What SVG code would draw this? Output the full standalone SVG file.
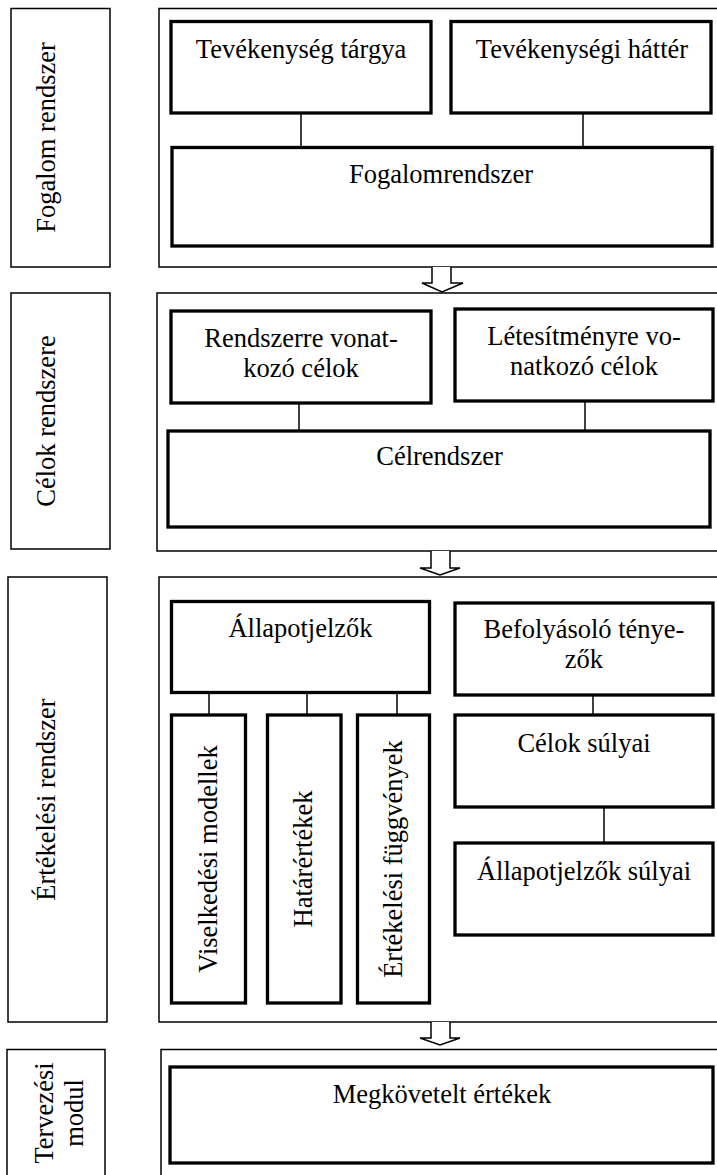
<svg xmlns="http://www.w3.org/2000/svg" width="717" height="1175" viewBox="0 0 717 1175">
  <style>
    .frame { fill: #fff; stroke: #000; stroke-width: 1.5; }
    .box { fill: #fff; stroke: #000; stroke-width: 3.3; }
    .link { fill: none; stroke: #000; stroke-width: 1.5; }
    .flow { fill: #fff; stroke: #000; stroke-width: 1.5; stroke-linejoin: miter; }
    .c { text-anchor: middle; }
  </style>
  <rect width="717" height="1175" fill="#fff"/>

  <!-- Section frames (right side runs past the page edge) -->
  <g id="frames">
    <rect class="frame" x="159" y="8.5" width="600" height="258.5"/>
    <rect class="frame" x="157" y="293" width="600" height="258"/>
    <rect class="frame" x="159" y="577" width="600" height="445"/>
    <rect class="frame" x="161" y="1049.5" width="600" height="200"/>
  </g>

  <g font-family="'Liberation Serif', serif" font-size="26.5" fill="#000">
  <!-- Section labels -->
  <g id="label-fogalom">
    <rect class="frame" x="11" y="8.5" width="99" height="258.5"/>
    <text class="c" transform="translate(55,137.5) rotate(-90)">Fogalom rendszer</text>
  </g>
  <g id="label-celok">
    <rect class="frame" x="11" y="293" width="99" height="256"/>
    <text class="c" transform="translate(55,421) rotate(-90)">Célok rendszere</text>
  </g>
  <g id="label-ertekelesi">
    <rect class="frame" x="8" y="577" width="99" height="445"/>
    <text class="c" transform="translate(54.5,799.5) rotate(-90)">Értékelési rendszer</text>
  </g>
  <g id="label-tervezesi">
    <rect class="frame" x="7" y="1049.5" width="98" height="200"/>
    <text class="c" transform="translate(52.5,1113) rotate(-90)">Tervezési</text>
    <text class="c" transform="translate(82.5,1113) rotate(-90)">modul</text>
  </g>

  <!-- Connectors and flow arrows -->
  <g id="connectors">
    <line class="link" x1="301" y1="113" x2="301" y2="147.5"/>
    <line class="link" x1="583" y1="113" x2="583" y2="147.5"/>
    <line class="link" x1="299" y1="403" x2="299" y2="431"/>
    <line class="link" x1="585" y1="401" x2="585" y2="431"/>
    <line class="link" x1="209" y1="692.5" x2="209" y2="715"/>
    <line class="link" x1="307" y1="692.5" x2="307" y2="715"/>
    <line class="link" x1="397" y1="692.5" x2="397" y2="715"/>
    <line class="link" x1="593" y1="695" x2="593" y2="715"/>
    <line class="link" x1="604" y1="807" x2="604" y2="843"/>
    <path class="flow" d="M432 267 V283 H422 L442 292 L463 283 H451 V267"/>
    <path class="flow" d="M431 551 V568 H420 L440 575 L460 568 H450 V551"/>
    <path class="flow" d="M431 1022 V1038 H420 L440 1045 L460 1038 H450 V1022"/>
  </g>

  <!-- Fogalom rendszer -->
  <g id="tevekenyseg-targya">
    <rect class="box" x="171" y="21.5" width="260" height="91.5"/>
    <text class="c" x="301" y="58">Tevékenység tárgya</text>
  </g>
  <g id="tevekenysegi-hatter">
    <rect class="box" x="451" y="21.5" width="260" height="91.5"/>
    <text class="c" x="582" y="58">Tevékenységi háttér</text>
  </g>
  <g id="fogalomrendszer">
    <rect class="box" x="172" y="147.5" width="540" height="98.5"/>
    <text class="c" x="441" y="183">Fogalomrendszer</text>
  </g>

  <!-- Célok rendszere -->
  <g id="rendszerre-celok">
    <rect class="box" x="171" y="311" width="260" height="92"/>
    <text class="c" x="301" y="347">Rendszerre vonat-</text>
    <text class="c" x="301" y="377">kozó célok</text>
  </g>
  <g id="letesitmenyre-celok">
    <rect class="box" x="455" y="309" width="258" height="92"/>
    <text class="c" x="584" y="345">Létesítményre vo-</text>
    <text class="c" x="584" y="375">natkozó célok</text>
  </g>
  <g id="celrendszer">
    <rect class="box" x="168" y="431" width="542" height="96"/>
    <text class="c" x="439.5" y="465">Célrendszer</text>
  </g>

  <!-- Értékelési rendszer -->
  <g id="allapotjelzok">
    <rect class="box" x="171.5" y="601.5" width="258" height="91"/>
    <text class="c" x="300.5" y="637">Állapotjelzők</text>
  </g>
  <g id="viselkedesi-modellek">
    <rect class="box" x="171.5" y="715" width="74" height="288"/>
    <text class="c" transform="translate(217,859) rotate(-90)">Viselkedési modellek</text>
  </g>
  <g id="hatarertekek">
    <rect class="box" x="267.5" y="715" width="73.5" height="288"/>
    <text class="c" transform="translate(312,859) rotate(-90)">Határértékek</text>
  </g>
  <g id="ertekelesi-fuggvenyek">
    <rect class="box" x="357.5" y="715" width="72" height="288"/>
    <text class="c" transform="translate(401.5,859) rotate(-90)">Értékelési függvények</text>
  </g>
  <g id="befolyasolo-tenyezok">
    <rect class="box" x="455" y="603" width="258" height="92"/>
    <text class="c" x="584" y="638">Befolyásoló ténye-</text>
    <text class="c" x="584" y="668">zők</text>
  </g>
  <g id="celok-sulyai">
    <rect class="box" x="455" y="715" width="258" height="92"/>
    <text class="c" x="584" y="752">Célok súlyai</text>
  </g>
  <g id="allapotjelzok-sulyai">
    <rect class="box" x="455" y="843" width="258" height="92"/>
    <text class="c" x="584" y="880">Állapotjelzők súlyai</text>
  </g>

  <!-- Tervezési modul -->
  <g id="megkovetelt-ertekek">
    <rect class="box" x="170" y="1067" width="543" height="96"/>
    <text class="c" x="442" y="1103">Megkövetelt értékek</text>
  </g>
  </g>
</svg>
